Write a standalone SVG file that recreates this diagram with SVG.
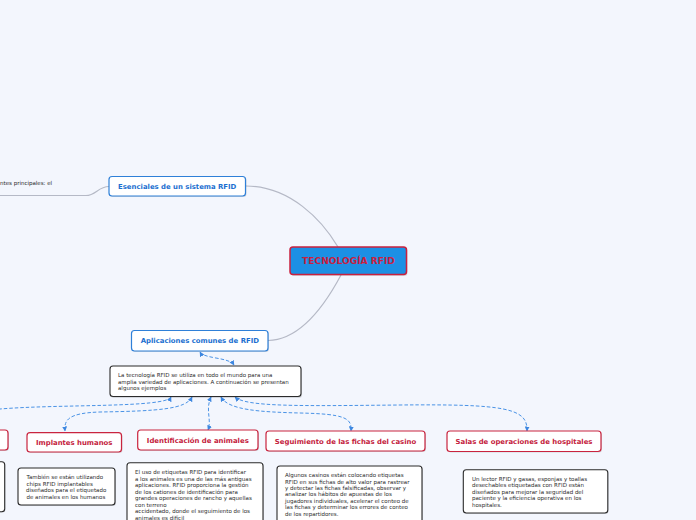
<svg xmlns="http://www.w3.org/2000/svg" width="696" height="520" viewBox="0 0 696 520">
<defs>
<style>
.bg{fill:#f3f6fd}
.main{fill:#1c90e4;stroke:#c9203e;stroke-width:1.5}
.bnode{fill:#ffffff;stroke:#2f80d8;stroke-width:1.2}
.rnode{fill:#ffffff;stroke:#c9243f;stroke-width:1.2}
.tbox{fill:#ffffff;stroke:#2b2b2b;stroke-width:1.1}
.shadow{fill:#000;opacity:0.12}
.t-main{font-family:"DejaVu Sans",Verdana,sans-serif;font-weight:bold;font-size:9.1px;fill:#c9203e;text-anchor:middle}
.t-blue{font-family:"DejaVu Sans",Verdana,sans-serif;font-weight:bold;font-size:6.9px;fill:#1b6fd0;text-anchor:middle}
.t-red{font-family:"DejaVu Sans",Verdana,sans-serif;font-weight:bold;font-size:6.9px;fill:#c4213c;text-anchor:middle}
.t-body{font-family:"DejaVu Sans",Verdana,sans-serif;font-size:5.5px;fill:#2b2b2b}
.solid{fill:none;stroke:#b5b9c6;stroke-width:1.2}
.dash{fill:none;stroke:#4a93e6;stroke-width:1;stroke-dasharray:3.5 2}
</style>
<marker id="ah" viewBox="0 0 10 10" refX="9" refY="5" markerWidth="5" markerHeight="5" markerUnits="userSpaceOnUse" orient="auto-start-reverse">
<path d="M0,0 L10,5 L0,10 Z" fill="#3d87e0"/>
</marker>
</defs>
<rect class="bg" x="0" y="0" width="696" height="520"/>

<g id="connectors">
<path class="solid" d="M0,195.5 L86,195.5 C96,195.5 98,186.5 109,186.5"/>
<path class="solid" d="M246,186 C290,186 322,220 338,247"/>
<path class="solid" d="M341,275 C325,305 300,340 268,340.5"/>
<path class="dash" marker-start="url(#ah)" marker-end="url(#ah)" d="M200,352 C204,359 229,357 234,365"/>
<path class="dash" marker-start="url(#ah)" d="M171,397 C166,408 60,404 0,409"/>
<path class="dash" marker-start="url(#ah)" marker-end="url(#ah)" d="M192,397 C186,409 160,411 100,412 C68,413 64,420 65,431"/>
<path class="dash" marker-start="url(#ah)" marker-end="url(#ah)" d="M211,397 C205,410 212,420 208,430"/>
<path class="dash" marker-start="url(#ah)" marker-end="url(#ah)" d="M221,397 C228,410 260,412 300,413 C345,414 352,418 351,431"/>
<path class="dash" marker-start="url(#ah)" marker-end="url(#ah)" d="M235,397 C246,407 300,406 400,405 C505,404 528,408 527,431"/>
</g>

<g id="left-text">
<text class="t-body" x="0" y="185">ntes principales: el</text>
</g>

<g id="root">
<rect class="shadow" x="291" y="248" width="116.5" height="28" rx="3"/>
<rect class="main" x="290" y="247" width="116.5" height="27.5" rx="3"/>
<text class="t-main" x="348.5" y="264">TECNOLOGÍA RFID</text>
</g>

<g id="esenciales">
<rect class="shadow" x="110" y="177" width="136.5" height="20" rx="3"/>
<rect class="bnode" x="109" y="176.5" width="136.5" height="19.5" rx="3"/>
<text class="t-blue" x="177.2" y="188.7">Esenciales de un sistema RFID</text>
</g>

<g id="aplicaciones">
<rect class="shadow" x="132.5" y="331.5" width="136.5" height="20.5" rx="3"/>
<rect class="bnode" x="131.5" y="330.5" width="136.5" height="20.5" rx="3"/>
<text class="t-blue" x="199.8" y="343.2">Aplicaciones comunes de RFID</text>
</g>

<g id="intro">
<rect class="shadow" x="111" y="367" width="191" height="31" rx="3"/>
<rect class="tbox" x="110" y="366" width="191" height="30.5" rx="3"/>
<text class="t-body" x="118" y="377">La tecnología RFID se utiliza en todo el mundo para una</text>
<text class="t-body" x="118" y="383.5">amplia variedad de aplicaciones. A continuación se presentan</text>
<text class="t-body" x="118" y="390">algunos ejemplos</text>
</g>

<g id="node-left">
<rect class="shadow" x="-99" y="431" width="108" height="20" rx="3"/>
<rect class="rnode" x="-100" y="430" width="108" height="20" rx="3"/>
</g>
<g id="text-left">
<rect class="shadow" x="-99" y="462.5" width="104.5" height="50" rx="3"/>
<rect class="tbox" x="-100" y="461.7" width="104.7" height="50" rx="3"/>
</g>

<g id="implantes">
<rect class="shadow" x="28" y="433.5" width="94.5" height="19.5" rx="3"/>
<rect class="rnode" x="27" y="432.7" width="94.5" height="19.3" rx="3"/>
<text class="t-red" x="74.2" y="445">Implantes humanos</text>
</g>
<g id="implantes-text">
<rect class="shadow" x="19" y="469" width="97" height="37" rx="3"/>
<rect class="tbox" x="18" y="468" width="97" height="37" rx="3"/>
<text class="t-body" x="26.5" y="479">También se están utilizando</text>
<text class="t-body" x="26.5" y="485.5"> chips RFID implantables</text>
<text class="t-body" x="26" y="492">diseñados para el etiquetado</text>
<text class="t-body" x="26.5" y="498.5"> de animales en los humanos</text>
</g>

<g id="animales">
<rect class="shadow" x="138.7" y="431" width="120.3" height="20" rx="3"/>
<rect class="rnode" x="137.7" y="430" width="120.3" height="20" rx="3"/>
<text class="t-red" x="197.8" y="442.5">Identificación de animales</text>
</g>
<g id="animales-text">
<rect class="shadow" x="128" y="463.7" width="136" height="70" rx="3"/>
<rect class="tbox" x="127" y="462.7" width="136" height="70" rx="3"/>
<text class="t-body" x="135" y="474">El uso de etiquetas RFID para identificar</text>
<text class="t-body" x="135" y="480.5"> a los animales es una de las más antiguas</text>
<text class="t-body" x="135" y="487">aplicaciones. RFID proporciona la gestión</text>
<text class="t-body" x="135" y="493.5">de los cationes de identificación para</text>
<text class="t-body" x="135" y="500">grandes operaciones de rancho y aquellas</text>
<text class="t-body" x="135" y="506.5">con terreno</text>
<text class="t-body" x="135" y="513"> accidentado, donde el seguimiento de los</text>
<text class="t-body" x="135" y="519.5">animales es difícil</text>
</g>

<g id="casino">
<rect class="shadow" x="267" y="432" width="159" height="20" rx="3"/>
<rect class="rnode" x="266" y="431" width="159" height="20" rx="3"/>
<text class="t-red" x="345.5" y="443.7">Seguimiento de las fichas del casino</text>
</g>
<g id="casino-text">
<rect class="shadow" x="278" y="467" width="145" height="65" rx="3"/>
<rect class="tbox" x="277" y="466" width="145" height="65" rx="3"/>
<text class="t-body" x="285" y="477">Algunos casinos están colocando etiquetas</text>
<text class="t-body" x="285" y="483.6">RFID en sus fichas de alto valor para rastrear</text>
<text class="t-body" x="285" y="489.8">y detectar las fichas falsificadas, observar y</text>
<text class="t-body" x="285" y="496.3">analizar los hábitos de apuestas de los</text>
<text class="t-body" x="285" y="502.7">jugadores individuales, acelerar el conteo de</text>
<text class="t-body" x="285" y="509.2">las fichas y determinar los errores de conteo</text>
<text class="t-body" x="285" y="515.6">de los repartidores.</text>
</g>

<g id="salas">
<rect class="shadow" x="448" y="432" width="154" height="20.5" rx="3"/>
<rect class="rnode" x="447" y="431" width="154" height="20.5" rx="3"/>
<text class="t-red" x="524" y="444">Salas de operaciones de hospitales</text>
</g>
<g id="salas-text">
<rect class="shadow" x="464" y="470.7" width="144.5" height="43.3" rx="3"/>
<rect class="tbox" x="463.3" y="469.7" width="144.5" height="43.3" rx="3"/>
<text class="t-body" x="472" y="481">Un lector RFID y gasas, esponjas y toallas</text>
<text class="t-body" x="472" y="487.2">desechables etiquetadas con RFID están</text>
<text class="t-body" x="472" y="494">diseñados para mejorar la seguridad del</text>
<text class="t-body" x="472" y="500.4">paciente y la eficiencia operativa en los</text>
<text class="t-body" x="472" y="507">hospitales.</text>
</g>
</svg>
